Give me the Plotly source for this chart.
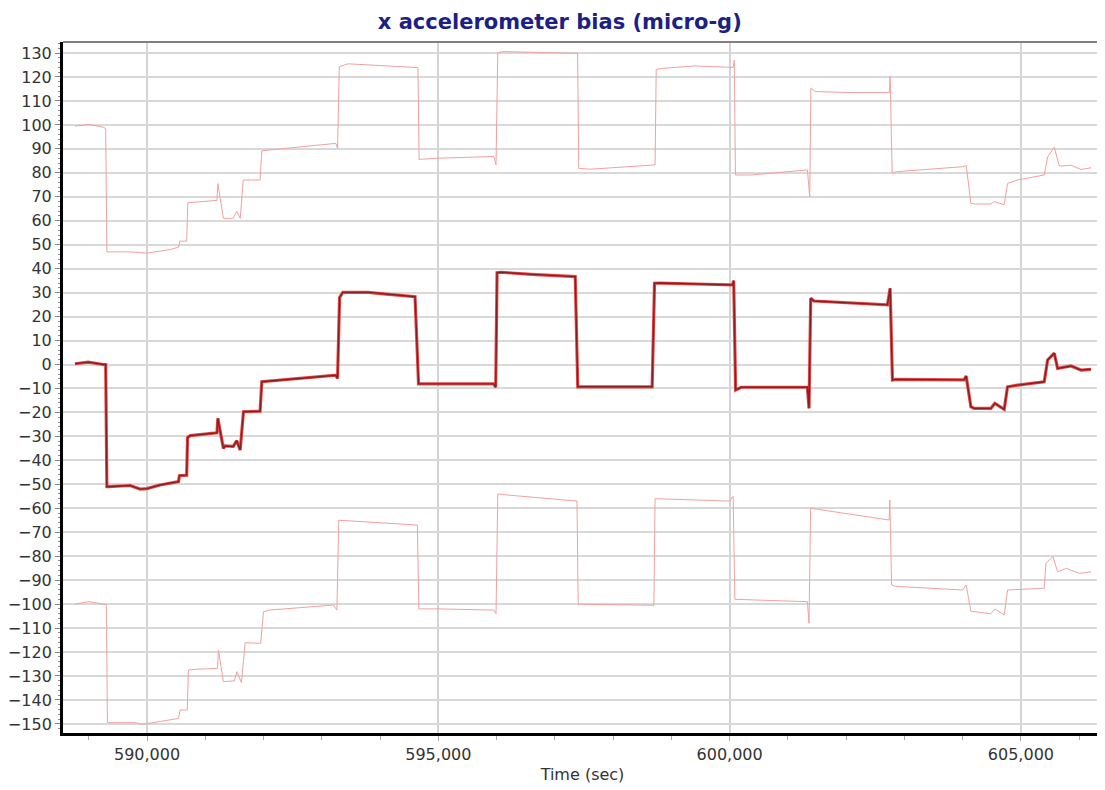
import plotly.graph_objects as go

# x accelerometer bias estimate and its +/- bounds
t_bias = [588763, 588990, 589250, 589290, 589310, 589335, 589710, 589880, 590000,
          590220, 590540, 590555, 590680, 590695, 590740, 591200, 591215, 591310,
          591340, 591480, 591540, 591598, 591655, 591940, 591970, 592500, 593000,
          593240, 593270, 593305, 593360, 593800, 594100, 594600, 594660, 594720,
          595500, 595950, 595985, 596008, 596080, 596600, 597350, 597393, 597500,
          598670, 598711, 598800, 599600, 600050, 600070, 600103, 600200, 601335,
          601363, 601392, 601449, 602079, 602710, 602755, 602795, 602852, 604026,
          604060, 604141, 604198, 604485, 604553, 604713, 604771, 604943, 605400,
          605459, 605573, 605630, 605859, 606031, 606203]
bias = [0.3, 1.0, 0.0, 0.0, -51.0, -51.0, -50.5, -52.0, -51.8,
        -50.3, -48.9, -46.4, -46.2, -30.5, -29.7, -28.5, -22.5, -35.0,
        -34.0, -34.2, -31.8, -35.7, -19.7, -19.5, -7.2, -6.0, -5.0,
        -4.5, -5.8, 28.0, 30.1, 30.1, 29.4, 28.3, -8.1, -8.1,
        -8.0, -8.1, -9.5, 38.3, 38.5, 37.6, 36.7, -9.3, -9.3,
        -9.3, 33.9, 34.0, 33.5, 33.2, 35.0, -10.6, -9.5, -9.5,
        -18.3, 27.6, 26.5, 25.8, 24.9, 31.8, -6.5, -6.2, -6.4,
        -4.8, -17.6, -18.3, -18.3, -16.2, -18.7, -9.3, -8.6, -7.2,
        1.9, 4.7, -1.6, -0.6, -2.3, -2.0]

t_upper = [588763, 589000, 589250, 589290, 589310, 589700, 590000, 590400, 590540,
           590560, 590680, 590700, 591200, 591215, 591310, 591480, 591540, 591600,
           591650, 591940, 591970, 592500, 593000, 593240, 593270, 593300, 593450,
           594000, 594650, 594670, 595000, 595950, 595990, 596020, 596100, 597300,
           597390, 597410, 597600, 598720, 598740, 598850, 599400, 600060, 600080,
           600100, 600361, 601335, 601375, 601395, 601470, 602079, 602740, 602755,
           602790, 602880, 604026, 604060, 604141, 604198, 604485, 604540, 604713,
           604771, 604943, 605400, 605459, 605573, 605660, 605859, 606031, 606203]
upper = [99.5, 100.2, 99.0, 98.5, 47.0, 47.0, 46.5, 48.0, 49.0,
         51.5, 51.5, 67.5, 68.5, 75.5, 61.0, 61.0, 64.0, 61.0,
         77.0, 77.0, 89.2, 90.5, 91.5, 92.3, 90.2, 124.3, 125.5,
         124.7, 123.9, 85.6, 86.1, 86.8, 83.3, 130.1, 130.6, 129.9,
         129.9, 81.9, 81.5, 83.3, 123.2, 123.6, 124.6, 124.0, 127.0,
         79.1, 79.1, 81.2, 70.0, 115.3, 113.9, 113.5, 113.5, 120.4,
         80.0, 80.5, 82.6, 83.2, 67.3, 67.0, 67.0, 68.0, 66.7,
         75.6, 77.0, 79.1, 86.7, 90.6, 82.8, 83.2, 81.4, 82.1]

t_lower = [588763, 589000, 589250, 589300, 589320, 589800, 589930, 590040, 590540,
           590567, 590690, 590710, 590840, 591210, 591225, 591311, 591500, 591541,
           591620, 591684, 591950, 591998, 592100, 593201, 593259, 593290, 593600,
           594640, 594665, 595000, 595950, 595990, 596020, 596200, 597380, 597400,
           598700, 598720, 600000, 600060, 600090, 601335, 601363, 601390, 602738,
           602750, 602780, 602850, 604000, 604060, 604141, 604485, 604553, 604713,
           604771, 605400, 605430, 605550, 605630, 605780, 606000, 606203]
lower = [-100.0, -99.0, -100.0, -100.2, -149.5, -149.5, -150.2, -149.8, -147.7,
         -144.2, -144.2, -127.5, -127.2, -126.8, -119.2, -132.4, -132.0, -128.2,
         -132.8, -116.1, -116.4, -103.2, -102.5, -100.4, -102.5, -65.0, -65.5,
         -67.0, -102.0, -102.0, -102.5, -104.0, -54.0, -54.5, -57.0, -100.0,
         -100.5, -56.0, -57.0, -55.0, -98.0, -99.0, -108.0, -60.0, -64.9,
         -56.6, -92.0, -92.6, -94.1, -92.0, -103.0, -104.0, -102.0, -104.5,
         -94.1, -93.4, -83.0, -80.2, -86.5, -85.1, -87.2, -86.5]

x_ticks = [590000, 595000, 600000, 605000]

fig = go.Figure()

bound_line = dict(color="#f2a0a0", width=1)
fig.add_trace(go.Scatter(x=t_upper, y=upper, mode="lines", line=bound_line, name="upper"))
fig.add_trace(go.Scatter(x=t_lower, y=lower, mode="lines", line=bound_line, name="lower"))
# red halo under a dark core, as in the reference
fig.add_trace(go.Scatter(x=t_bias, y=bias, mode="lines",
                         line=dict(color="#e24a4a", width=3.2), name="bias halo"))
fig.add_trace(go.Scatter(x=t_bias, y=bias, mode="lines",
                         line=dict(color="#8a1e1e", width=1.4), name="bias"))

tick_font = dict(family="DejaVu Sans", size=16, color="#333333")

# the page body adds an 8px offset, so the figure is sized to fit the window
fig.update_layout(
    width=1097,
    height=782,
    plot_bgcolor="white",
    paper_bgcolor="white",
    showlegend=False,
    margin=dict(l=55, r=3, t=34, b=57),
    title=dict(
        text="<b>x accelerometer bias (micro-g)</b>",
        font=dict(family="DejaVu Sans", size=21, color="#1c1f86"),
        x=0.503, xref="container", xanchor="center",
        y=0.982, yref="container", yanchor="middle",
    ),
    xaxis=dict(
        range=[588557, 606392],
        tickvals=x_ticks,
        tickformat=",",
        tickfont=tick_font,
        ticks="outside", ticklen=5, tickcolor="#aaaaaa", tickwidth=1,
        minor=dict(dtick=1000, ticks="outside", ticklen=4, tickcolor="#aaaaaa",
                   showgrid=False),
        showgrid=True, gridcolor="#d4d4d4", gridwidth=1.5,
        showline=True, linecolor="black", linewidth=3,
        zeroline=False,
        automargin=False,
        title=dict(text="Time (sec)", font=tick_font, standoff=6),
    ),
    yaxis=dict(
        range=[-153.8, 134.6],
        dtick=10,
        tickfont=tick_font,
        ticks="outside", ticklen=5, tickcolor="#888888", tickwidth=1,
        minor=dict(dtick=2, ticks="outside", ticklen=2, tickcolor="#888888",
                   showgrid=False),
        showgrid=True, gridcolor="#d9d9d9", gridwidth=2,
        showline=True, linecolor="black", linewidth=3,
        zeroline=False,
        automargin=False,
    ),
    shapes=[
        dict(type="line", xref="paper", yref="paper", x0=0, x1=1, y0=1, y1=1,
             line=dict(color="#808080", width=2)),
        dict(type="line", xref="paper", yref="paper", x0=1, x1=1, y0=0, y1=1,
             line=dict(color="#a0a0a0", width=2)),
    ],
)

fig.write_html("out.html")
